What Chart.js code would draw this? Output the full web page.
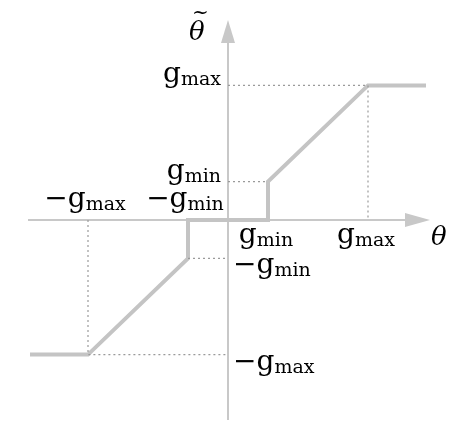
<!DOCTYPE html>
<html>
<head>
<meta charset="utf-8">
<script src="https://cdn.jsdelivr.net/npm/chart.js@4"></script>
<style>
  body { margin: 0; background: #fff; }
  canvas { display: block; }
</style>
</head>
<body>
<canvas id="chart" width="472" height="438"></canvas>
<script>
// threshold levels (same units on both axes)
const gMin = 1;
const gMax = 3.5;

// quantizer curve
const curveX = [-4.95, -gMax, -gMin, -gMin, gMin, gMin, gMax, 4.95];
const curveY = [-gMax, -gMax, -gMin, 0, 0, gMin, gMax, gMax];

// dotted guide lines (null = break)
const guideX = [0, gMax, gMax, null, 0, gMin, null, -gMax, -gMax, 0, null, -gMin, 0];
const guideY = [gMax, gMax, 0, null, gMin, gMin, null, 0, -gMax, -gMax, null, -gMin, -gMin];

// tick labels
const xTicksAbove = [{ v: -gMax, sub: "max" }, { v: -gMin, sub: "min" }];
const xTicksBelow = [{ v: gMin, sub: "min" }, { v: gMax, sub: "max" }];
const yTicksLeft = [{ v: gMax, sub: "max" }, { v: gMin, sub: "min" }];
const yTicksRight = [{ v: -gMin, sub: "min" }, { v: -gMax, sub: "max" }];

const toPoints = (xs, ys) => xs.map((x, i) => (x === null ? { x: NaN, y: NaN } : { x: x, y: ys[i] }));

const FONT = '"DejaVu Serif", serif';
const axisColor = "#c8c8c8";

function gLabel(ctx, minus, sub) {
    ctx.font = "28px " + FONT;
    const main = (minus ? "\u2212" : "") + "g";
    const w1 = ctx.measureText(main).width;
    ctx.font = "19px " + FONT;
    const w2 = ctx.measureText(sub).width;
    return { main, sub, w1, w2, w: w1 + w2 };
}

function drawG(ctx, lab, left, base) {
    ctx.fillStyle = "#000";
    ctx.textAlign = "left";
    ctx.textBaseline = "alphabetic";
    ctx.font = "28px " + FONT;
    ctx.fillText(lab.main, left, base);
    ctx.font = "19px " + FONT;
    ctx.fillText(lab.sub, left + lab.w1, base + 3);
}

const axesPlugin = {
    id: "axes",
    beforeDatasetsDraw(chart) {
        const { ctx, chartArea: a, scales: { x, y } } = chart;
        const x0 = x.getPixelForValue(0);
        const y0 = y.getPixelForValue(0);
        ctx.save();
        ctx.strokeStyle = axisColor;
        ctx.fillStyle = axisColor;
        ctx.lineWidth = 2;
        ctx.beginPath();
        ctx.moveTo(x0, a.bottom);
        ctx.lineTo(x0, a.top + 20);
        ctx.moveTo(a.left, y0);
        ctx.lineTo(a.right - 20, y0);
        ctx.stroke();
        // arrow heads
        ctx.beginPath();
        ctx.moveTo(x0, a.top);
        ctx.lineTo(x0 - 7, a.top + 23);
        ctx.lineTo(x0 + 7, a.top + 23);
        ctx.closePath();
        ctx.fill();
        ctx.beginPath();
        ctx.moveTo(a.right + 2, y0);
        ctx.lineTo(a.right - 23, y0 - 7);
        ctx.lineTo(a.right - 23, y0 + 7);
        ctx.closePath();
        ctx.fill();
        ctx.restore();
    },
    afterDatasetsDraw(chart) {
        const { ctx, chartArea: a, scales: { x, y } } = chart;
        const x0 = x.getPixelForValue(0);
        const y0 = y.getPixelForValue(0);
        ctx.save();
        xTicksAbove.forEach(t => {
            const lab = gLabel(ctx, true, t.sub);
            drawG(ctx, lab, x.getPixelForValue(t.v) - lab.w / 2 - 3, y0 - 13);
        });
        xTicksBelow.forEach(t => {
            const lab = gLabel(ctx, false, t.sub);
            drawG(ctx, lab, x.getPixelForValue(t.v) - lab.w / 2 - 2, y0 + 23);
        });
        yTicksLeft.forEach(t => {
            const lab = gLabel(ctx, false, t.sub);
            drawG(ctx, lab, x0 - 7 - lab.w, y.getPixelForValue(t.v) - 3);
        });
        yTicksRight.forEach(t => {
            const lab = gLabel(ctx, true, t.sub);
            drawG(ctx, lab, x0 + 5, y.getPixelForValue(t.v) + 15);
        });
        // axis names
        ctx.fillStyle = "#000";
        ctx.font = "italic 26px " + FONT;
        ctx.textAlign = "left";
        ctx.fillText("\u03b8", a.right + 3, y0 + 25);
        const tx = x0 - 39;
        ctx.fillText("\u03b8", tx, a.top + 20);
        ctx.font = "italic 20px " + FONT;
        ctx.fillText("~", tx + 3, a.top - 1);
        ctx.restore();
    }
};

new Chart(document.getElementById("chart"), {
    type: "scatter",
    data: {
        datasets: [
            {
                data: toPoints(guideX, guideY),
                showLine: true,
                spanGaps: false,
                borderColor: "#9a9a9a",
                borderWidth: 1.2,
                borderDash: [2, 3],
                pointRadius: 0,
            },
            {
                data: toPoints(curveX, curveY),
                showLine: true,
                borderColor: "#c4c4c4",
                borderWidth: 4,
                borderJoinStyle: "miter",
                pointRadius: 0,
            },
        ],
    },
    options: {
        responsive: false,
        animation: false,
        layout: { padding: { left: 28, right: 44, top: 20, bottom: 18 } },
        scales: {
            x: { type: "linear", min: -5, max: 5, display: false },
            y: { type: "linear", min: -5.2, max: 5.2, display: false },
        },
        plugins: {
            legend: { display: false },
            tooltip: { enabled: false },
        },
    },
    plugins: [axesPlugin],
});
</script>
</body>
</html>
